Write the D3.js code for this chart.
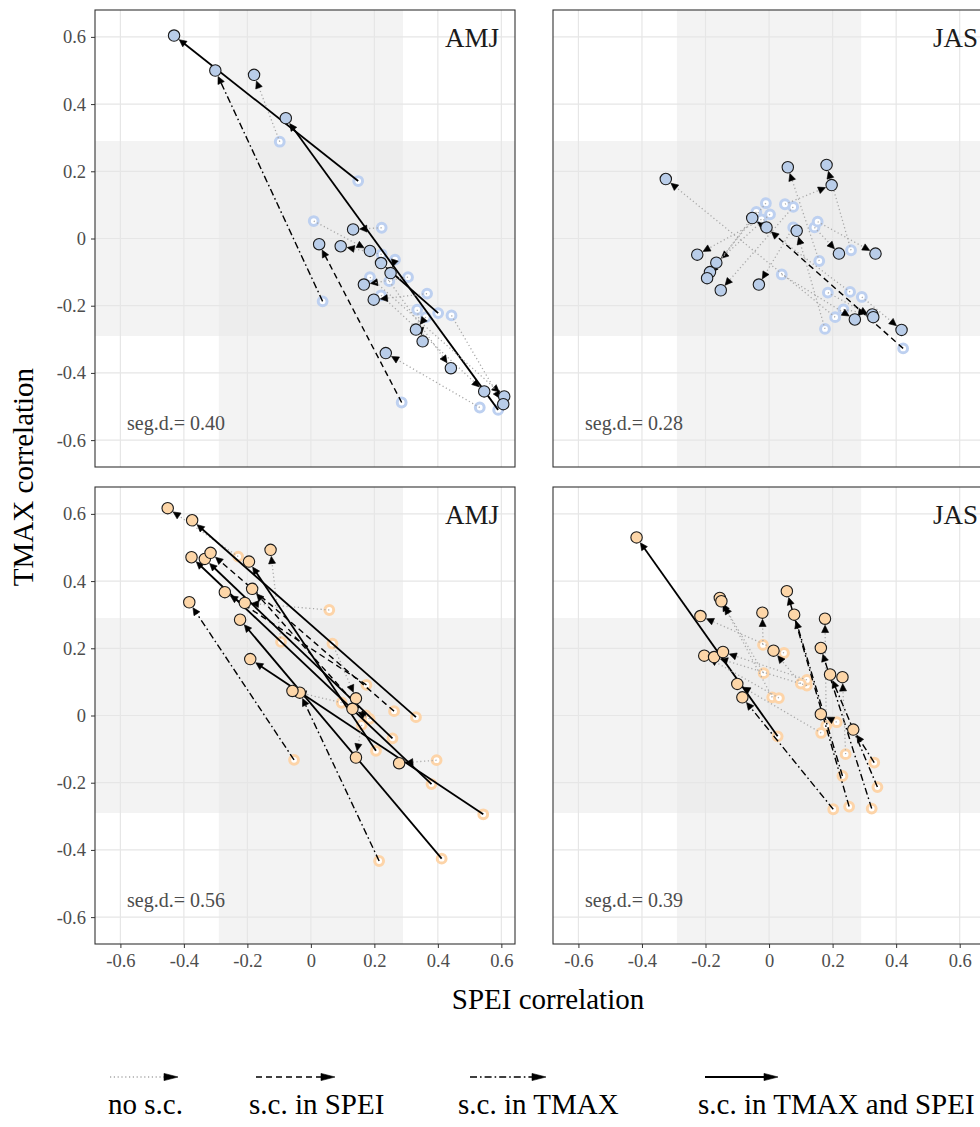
<!DOCTYPE html>
<html><head><meta charset="utf-8">
<script src="https://cdn.jsdelivr.net/npm/d3@7"></script>
<style>body{margin:0;background:#fff}svg{display:block}</style>
</head><body>
<svg id="c" width="980" height="1127"></svg>
<script>
// ---------- data ----------
const xTicks = [-0.6, -0.4, -0.2, 0, 0.2, 0.4, 0.6];
const yTicks = [-0.6, -0.4, -0.2, 0, 0.2, 0.4, 0.6];
const tickLabels = ["-0.6", "-0.4", "-0.2", "0", "0.2", "0.4", "0.6"];
const seasons = ["AMJ", "JAS"];
const segD = ["0.40", "0.28", "0.56", "0.39"];
const threshold = 0.29;
const lineTypes = ["n", "s", "t", "b"];
const legendLabels = ["no s.c.", "s.c. in SPEI", "s.c. in TMAX", "s.c. in TMAX and SPEI"];

// each row: [SPEI before, TMAX before, SPEI after, TMAX after, type]
const amjTop = [
  [-0.098, 0.288, -0.179, 0.487, "n"],
  [0.149, 0.171, -0.431, 0.604, "b"],
  [0.037, -0.187, -0.301, 0.500, "t"],
  [0.286, -0.488, 0.026, -0.017, "s"],
  [0.590, -0.510, -0.079, 0.358, "b"],
  [0.401, -0.222, 0.221, -0.073, "b"],
  [0.009, 0.052, 0.186, -0.037, "n"],
  [0.223, 0.032, 0.133, 0.027, "n"],
  [0.223, -0.047, 0.094, -0.023, "n"],
  [0.265, -0.063, 0.251, -0.103, "n"],
  [0.306, -0.115, 0.167, -0.137, "n"],
  [0.221, -0.169, 0.546, -0.455, "n"],
  [0.186, -0.115, 0.609, -0.470, "n"],
  [0.247, -0.127, 0.441, -0.386, "n"],
  [0.532, -0.503, 0.236, -0.341, "n"],
  [0.443, -0.229, 0.606, -0.493, "n"],
  [0.362, -0.234, 0.331, -0.271, "n"],
  [0.335, -0.212, 0.352, -0.306, "n"],
  [0.366, -0.164, 0.198, -0.182, "n"]
];
const jasTop = [
  [0.208, -0.234, -0.325, 0.177, "n"],
  [0.255, -0.159, -0.053, 0.061, "n"],
  [0.422, -0.327, -0.008, 0.033, "s"],
  [-0.024, 0.057, -0.226, -0.048, "n"],
  [0.003, 0.072, -0.166, -0.072, "n"],
  [-0.010, 0.105, -0.186, -0.100, "n"],
  [-0.040, 0.079, -0.195, -0.118, "n"],
  [0.076, 0.094, -0.152, -0.154, "n"],
  [0.076, 0.033, -0.032, -0.137, "n"],
  [0.158, -0.067, 0.059, 0.212, "n"],
  [0.258, -0.035, 0.181, 0.219, "n"],
  [0.050, 0.102, 0.197, 0.159, "n"],
  [0.176, -0.269, 0.087, 0.023, "n"],
  [0.143, 0.033, 0.220, -0.045, "n"],
  [0.153, 0.050, 0.335, -0.045, "n"],
  [0.234, -0.211, 0.325, -0.226, "n"],
  [0.185, -0.161, 0.328, -0.234, "n"],
  [0.040, -0.107, 0.270, -0.241, "n"],
  [0.292, -0.174, 0.417, -0.272, "n"]
];
const amjBottom = [
  [-0.229, 0.473, -0.451, 0.617, "n"],
  [-0.094, 0.219, -0.127, 0.493, "n"],
  [-0.053, -0.132, -0.383, 0.337, "t"],
  [0.215, -0.433, -0.035, 0.068, "t"],
  [0.412, -0.426, -0.223, 0.285, "b"],
  [0.543, -0.294, -0.191, 0.168, "b"],
  [0.396, -0.133, 0.278, -0.142, "n"],
  [0.160, -0.028, 0.142, -0.125, "n"],
  [0.068, 0.214, 0.142, 0.051, "n"],
  [0.058, 0.314, -0.208, 0.335, "n"],
  [0.331, -0.005, -0.374, 0.581, "b"],
  [0.380, -0.204, -0.376, 0.471, "b"],
  [0.257, -0.068, -0.334, 0.466, "b"],
  [0.262, 0.013, -0.316, 0.484, "s"],
  [0.205, -0.105, -0.195, 0.458, "b"],
  [0.175, 0.091, -0.271, 0.367, "s"],
  [0.173, 0.000, -0.185, 0.377, "s"],
  [0.097, 0.038, -0.058, 0.073, "n"],
  [0.185, -0.010, 0.131, 0.020, "n"]
];
const jasBottom = [
  [0.027, -0.062, -0.417, 0.530, "b"],
  [0.010, 0.054, -0.155, 0.350, "n"],
  [-0.017, 0.126, -0.150, 0.340, "n"],
  [-0.019, 0.210, -0.021, 0.306, "n"],
  [0.047, 0.186, -0.216, 0.296, "n"],
  [0.031, 0.052, -0.204, 0.178, "n"],
  [0.119, 0.089, -0.173, 0.174, "n"],
  [0.119, 0.106, -0.145, 0.189, "n"],
  [0.164, -0.052, -0.100, 0.094, "n"],
  [0.202, -0.279, -0.084, 0.054, "t"],
  [0.252, -0.271, 0.056, 0.370, "t"],
  [0.231, -0.180, 0.079, 0.300, "t"],
  [0.180, -0.030, 0.176, 0.288, "n"],
  [0.100, 0.095, 0.014, 0.193, "n"],
  [0.323, -0.277, 0.163, 0.201, "t"],
  [0.341, -0.213, 0.192, 0.122, "t"],
  [0.241, -0.115, 0.231, 0.114, "n"],
  [0.213, -0.020, 0.163, 0.004, "n"],
  [0.331, -0.140, 0.265, -0.042, "t"]
];

// ---------- layout ----------
const FONT = "'Liberation Serif','Times New Roman',serif";
const svg = d3.select("#c");
const cols = [
  {domain: [-0.68, 0.643], range: [95, 515]},
  {domain: [-0.68, 0.73], range: [553, 1001]}
];
const rows = [
  {range: [467, 10], fillC: "#b9cde9", ringC: "#bdd0f0"},
  {range: [944, 487], fillC: "#fdd6a8", ringC: "#fdd4a8"}
];
const yDomain = [-0.68, 0.68];
const panels = [
  {data: amjTop, r: 0, c: 0, seg: segD[0], lab: seasons[0]},
  {data: jasTop, r: 0, c: 1, seg: segD[1], lab: seasons[1]},
  {data: amjBottom, r: 1, c: 0, seg: segD[2], lab: seasons[0]},
  {data: jasBottom, r: 1, c: 1, seg: segD[3], lab: seasons[1]}
];

const styles = {
  n: {stroke: "#a8a8a8", w: 1.3, dash: "1.2,2.6"},
  s: {stroke: "#000", w: 1.4, dash: "6,4"},
  t: {stroke: "#000", w: 1.4, dash: "7,3,1.6,3"},
  b: {stroke: "#000", w: 1.8, dash: null}
};

function arrow(g, x0, y0, x1, y1, type, off, len, hw) {
  const dx = x1 - x0, dy = y1 - y0, L = Math.hypot(dx, dy) || 1;
  const ux = dx / L, uy = dy / L;
  const tx = x1 - ux * off, ty = y1 - uy * off;
  const bx = tx - ux * len, by = ty - uy * len;
  const st = styles[type];
  const ln = g.append("line").attr("x1", x0).attr("y1", y0)
    .attr("x2", bx + ux * 1).attr("y2", by + uy * 1)
    .attr("stroke", st.stroke).attr("stroke-width", st.w);
  if (st.dash) ln.attr("stroke-dasharray", st.dash);
  const px = -uy, py = ux;
  g.append("path")
    .attr("d", `M${tx},${ty}L${bx + px * hw},${by + py * hw}L${bx - px * hw},${by - py * hw}Z`)
    .attr("fill", "#000").attr("stroke", "#000").attr("stroke-width", 0.6);
}

panels.forEach((p, i) => {
  const col = cols[p.c], row = rows[p.r];
  const x = d3.scaleLinear().domain(col.domain).range(col.range);
  const y = d3.scaleLinear().domain(yDomain).range(row.range);
  const [L, R] = col.range, [B, T] = row.range;
  const clipId = "clip" + i;
  svg.append("clipPath").attr("id", clipId).append("rect")
    .attr("x", L).attr("y", T).attr("width", R - L).attr("height", B - T);
  const g = svg.append("g").attr("clip-path", `url(#${clipId})`);
  g.append("rect").attr("x", L).attr("y", T).attr("width", R - L).attr("height", B - T).attr("fill", "#fff");
  // significance bands
  g.append("rect").attr("x", x(-threshold)).attr("y", T).attr("width", x(threshold) - x(-threshold)).attr("height", B - T).attr("fill", "#f3f3f3");
  g.append("rect").attr("x", L).attr("y", y(threshold)).attr("width", R - L).attr("height", y(-threshold) - y(threshold)).attr("fill", "#f3f3f3");
  g.append("rect").attr("x", x(-threshold)).attr("y", y(threshold)).attr("width", x(threshold) - x(-threshold)).attr("height", y(-threshold) - y(threshold)).attr("fill", "#ededed");
  // grid
  g.selectAll(".gx").data(xTicks).join("line").attr("x1", d => x(d)).attr("x2", d => x(d)).attr("y1", T).attr("y2", B).attr("stroke", "#e6e6e6").attr("stroke-width", 1.2);
  g.selectAll(".gy").data(yTicks).join("line").attr("y1", d => y(d)).attr("y2", d => y(d)).attr("x1", L).attr("x2", R).attr("stroke", "#e6e6e6").attr("stroke-width", 1.2);
  // hollow (before) points
  g.selectAll(".h").data(p.data).join("circle").attr("cx", d => x(d[0])).attr("cy", d => y(d[1])).attr("r", 4.4)
    .attr("fill", "#fff").attr("stroke", row.ringC).attr("stroke-width", 3);
  // arrows
  p.data.forEach(d => arrow(g, x(d[0]), y(d[1]), x(d[2]), y(d[3]), d[4], 6.6, 7.2, 3.5));
  // filled (after) points
  g.selectAll(".f").data(p.data).join("circle").attr("cx", d => x(d[2])).attr("cy", d => y(d[3])).attr("r", 5.7)
    .attr("fill", row.fillC).attr("stroke", "#1a1a1a").attr("stroke-width", 1.1);
  // labels
  svg.append("text").attr("x", p.c === 0 ? 499 : 978).attr("y", T + 37).attr("text-anchor", "end")
    .attr("font-family", FONT).attr("font-size", 27).attr("fill", "#1a1a1a").text(p.lab);
  svg.append("text").attr("x", L + 32).attr("y", B - 37).attr("font-family", FONT).attr("font-size", 20)
    .attr("fill", "#4d4d4d").text("seg.d.= " + p.seg);
  // border
  svg.append("rect").attr("x", L).attr("y", T).attr("width", R - L).attr("height", B - T)
    .attr("fill", "none").attr("stroke", "#333").attr("stroke-width", 1.1);
  // axes
  if (p.c === 0) {
    const ax = svg.append("g").attr("transform", `translate(${L},0)`)
      .call(d3.axisLeft(y).tickValues(yTicks).tickFormat((d, k) => tickLabels[k]).tickSize(4).tickPadding(5));
    ax.select(".domain").remove();
    ax.selectAll("line").attr("stroke", "#333");
    ax.selectAll("text").attr("font-family", FONT).attr("font-size", 18.5).attr("fill", "#4d4d4d");
  }
  if (p.r === 1) {
    const ax = svg.append("g").attr("transform", `translate(0,${B})`)
      .call(d3.axisBottom(x).tickValues(xTicks).tickFormat((d, k) => tickLabels[k]).tickSize(4).tickPadding(6));
    ax.select(".domain").remove();
    ax.selectAll("line").attr("stroke", "#333");
    ax.selectAll("text").attr("font-family", FONT).attr("font-size", 18.5).attr("fill", "#4d4d4d");
  }
});

// axis titles
svg.append("text").attr("transform", "translate(33,477) rotate(-90)").attr("text-anchor", "middle")
  .attr("font-family", FONT).attr("font-size", 29).attr("fill", "#000").text("TMAX correlation");
svg.append("text").attr("x", 548).attr("y", 1009).attr("text-anchor", "middle")
  .attr("font-family", FONT).attr("font-size", 29).attr("fill", "#000").text("SPEI correlation");

// legend
const legX = [[110, 178], [256, 335], [470, 546], [705, 778]];
const legTextX = [108, 249, 458, 698];
const lg = svg.append("g");
lineTypes.forEach((t, k) => {
  arrow(lg, legX[k][0], 1077, legX[k][1], 1077, t, 0, 14, 3.6);
  lg.append("text").attr("x", legTextX[k]).attr("y", 1114).attr("font-family", FONT)
    .attr("font-size", 29).attr("fill", "#000").text(legendLabels[k]);
});
</script>
</body></html>
